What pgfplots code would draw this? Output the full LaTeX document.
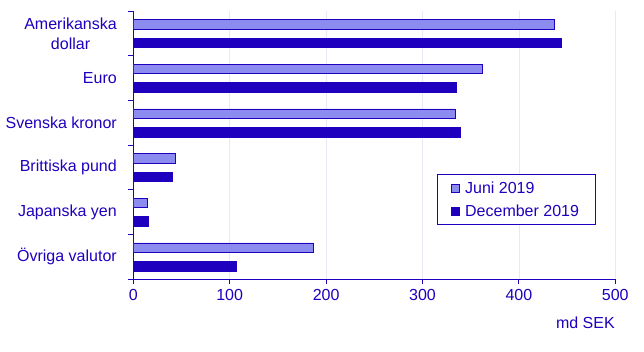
\documentclass[border=0pt]{standalone}
\usepackage{pgfplots}
\pgfplotsset{compat=1.18}
\usepackage{fontspec}
\setmainfont{Liberation Sans}
\definecolor{dark}{RGB}{30,0,190}
\definecolor{light}{RGB}{140,140,240}
\definecolor{gridc}{RGB}{232,232,248}
\newcommand{\chartfont}{\fontsize{16pt}{19.4pt}\selectfont}
\begin{document}
\begin{tikzpicture}
\begin{axis}[
  name=ax,
  scale only axis,
  width=482pt, height=268pt,
  xmin=0, xmax=500, ymin=-0.5, ymax=5.5,
  axis x line*=bottom, axis y line*=left,
  axis line style={dark, line width=1pt, -},
  xtick={0,100,200,300,400,500},
  ytick={-0.5,0.5,1.5,2.5,3.5,4.5,5.5},
  y tick label as interval=true,
  yticklabels={Övriga valutor, Japanska yen, Brittiska pund, Svenska kronor, Euro, {Amerikanska\\dollar}},
  tick align=outside, major tick length=5pt,
  tick style={dark, line width=1pt},
  xmajorgrids, grid style={gridc, line width=0.8pt},
  /pgf/number format/assume math mode=true,
  every tick label/.append style={font=\chartfont, text=dark},
  yticklabel style={align=center, xshift=-8pt},
  xticklabel style={yshift=-1pt},
  xlabel={md SEK},
  xlabel style={at={(axis description cs:1,0)}, anchor=north east, font=\chartfont, text=dark, yshift=-34pt, xshift=3pt},
  legend style={at={(0.63,0.392)}, anchor=north west, draw=dark, line width=0.8pt, font=\chartfont, text=dark, inner xsep=14pt, inner ysep=5pt, row sep=6pt, legend cell align=left, /tikz/every odd column/.append style={column sep=3pt}},
  legend image code/.code={\draw[#1, line width=0.8pt] (0pt,-4pt) rectangle (8pt,4pt);},
]
\addplot[xbar, bar width=9.5pt, bar shift=9.3pt, fill=light, draw=dark, line width=0.8pt] coordinates {(437,5) (362,4) (334,3) (44,2) (14.5,1) (187,0)};
\addlegendentry{Juni 2019}
\addplot[xbar, bar width=9.5pt, bar shift=-9.3pt, fill=dark, draw=dark, line width=0.8pt] coordinates {(444,5) (335,4) (339,3) (41,2) (16,1) (107,0)};
\addlegendentry{December 2019}
\end{axis}
\path (ax.south west) ++(-133.3pt,-72.7pt) rectangle ++(644pt,352pt);
\end{tikzpicture}
\end{document}
